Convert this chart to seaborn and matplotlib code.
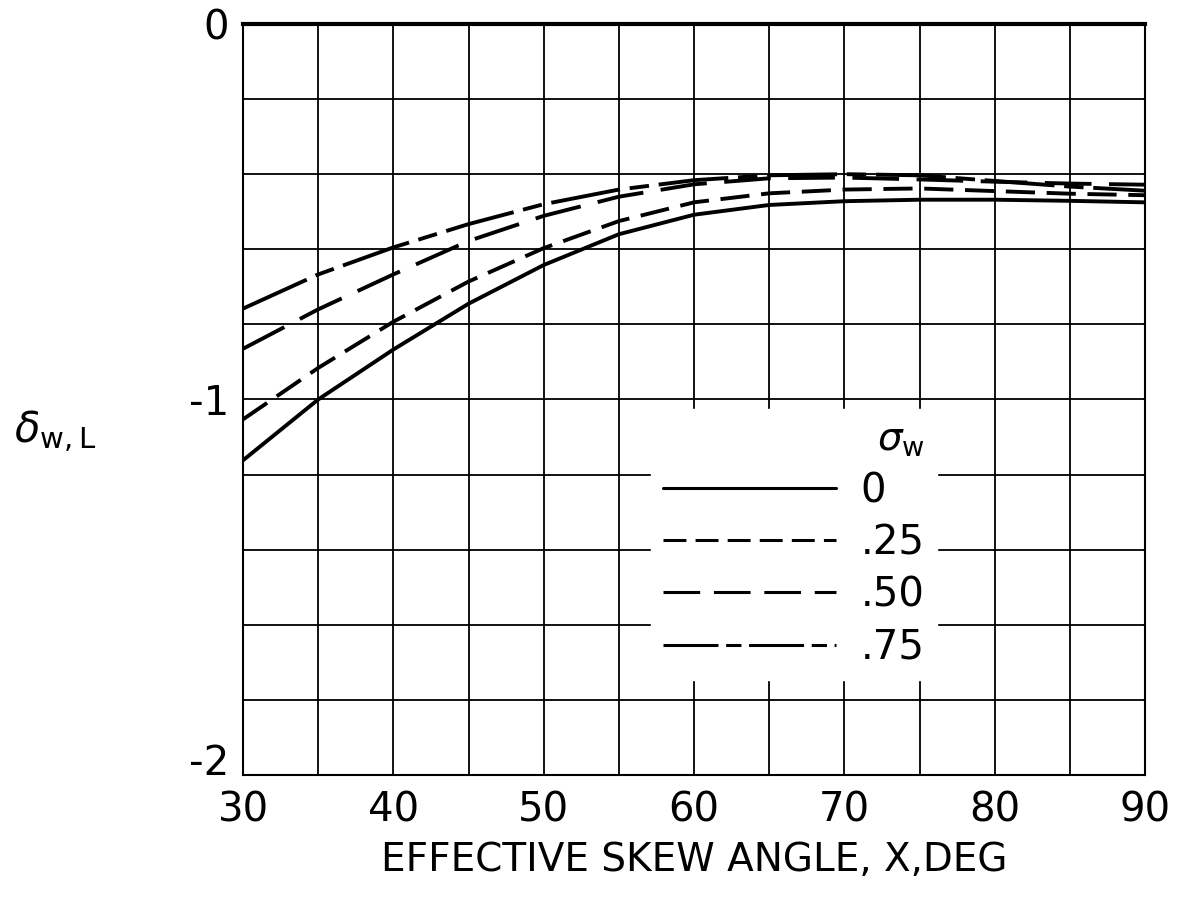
import numpy as np
import pandas as pd
import matplotlib
matplotlib.use("Agg")
import matplotlib.pyplot as plt
import seaborn as sns

# effective skew angle, deg
skew = [30, 35, 40, 45, 50, 55, 60, 65, 70, 75, 80, 85, 90]

# delta_w,L, one list per sigma_w
d_s000 = [-1.162, -1.000, -0.867, -0.745, -0.642, -0.560, -0.508, -0.482, -0.472, -0.468, -0.468, -0.471, -0.475]
d_s025 = [-1.053, -0.916, -0.793, -0.686, -0.597, -0.525, -0.475, -0.451, -0.441, -0.438, -0.445, -0.452, -0.456]
d_s050 = [-0.865, -0.760, -0.667, -0.578, -0.511, -0.460, -0.427, -0.411, -0.409, -0.414, -0.420, -0.425, -0.428]
d_s075 = [-0.758, -0.667, -0.595, -0.533, -0.480, -0.441, -0.416, -0.403, -0.400, -0.403, -0.418, -0.433, -0.444]

sigma_labels = ["0", ".25", ".50", ".75"]

df = pd.concat([
    pd.DataFrame({"skew": skew, "delta": d, "sigma": s})
    for d, s in zip([d_s000, d_s025, d_s050, d_s075], sigma_labels)
])

sns.set_style("white")
plt.rcParams["font.family"] = ["DejaVu Sans"]
plt.rcParams["text.color"] = "black"
plt.rcParams["xtick.color"] = "black"
plt.rcParams["ytick.color"] = "black"
plt.rcParams["axes.labelcolor"] = "black"

fig = plt.figure(figsize=(11.82, 8.98), dpi=100)
ax = fig.add_axes([0.2056, 0.137, 0.7631, 0.8363])

dash_map = {"0": "", ".25": (7.5, 3), ".50": (12, 4.5), ".75": (18, 2.5, 5, 2.5)}
sns.lineplot(data=df, x="skew", y="delta", style="sigma", style_order=sigma_labels,
             dashes=dash_map, color="black", linewidth=2.8, ax=ax, legend=True)

ax.set_xlim(30, 90)
ax.set_ylim(-2, 0)
ax.set_xticks(np.arange(30, 91, 5), minor=True)
ax.set_xticks([30, 40, 50, 60, 70, 80, 90])
ax.set_yticks(np.arange(-2, 0.01, 0.2), minor=True)
ax.set_yticks([-2, -1, 0])
ax.set_yticklabels(["-2", "-1", "0"])
ax.grid(True, which="both", color="black", linewidth=1.3)
ax.tick_params(which="both", length=0, labelsize=29, colors="black")
ax.tick_params(axis="x", pad=11)
ax.tick_params(axis="y", pad=10)
# the -2 label sits just above the bottom line, as in the reference
ax.get_yticklabels()[0].set_va("baseline")
for sp in ax.spines.values():
    sp.set_color("black")
    sp.set_linewidth(1.5)
ax.spines["top"].set_linewidth(3)

ax.set_xlabel("EFFECTIVE SKEW ANGLE, X,DEG", fontsize=28, labelpad=8, color="black")
ax.set_ylabel("")
fig.text(0.012, 0.52, r"$\delta_{\mathrm{w,L}}$", fontsize=30, ha="left", va="center")

leg = ax.legend(title=r"$\sigma_{\mathrm{w}}$", loc="lower left", bbox_to_anchor=(0.43, 0.10),
                fontsize=29, title_fontsize=28, handlelength=4.3, labelspacing=0.3,
                handletextpad=0.6, frameon=True, framealpha=1, edgecolor="white",
                fancybox=False, alignment="right", borderpad=0.3)
for h in leg.get_lines():
    h.set_linewidth(2.2)
for t in leg.get_texts():
    t.set_color("black")

fig.savefig("out.png", dpi=100)
